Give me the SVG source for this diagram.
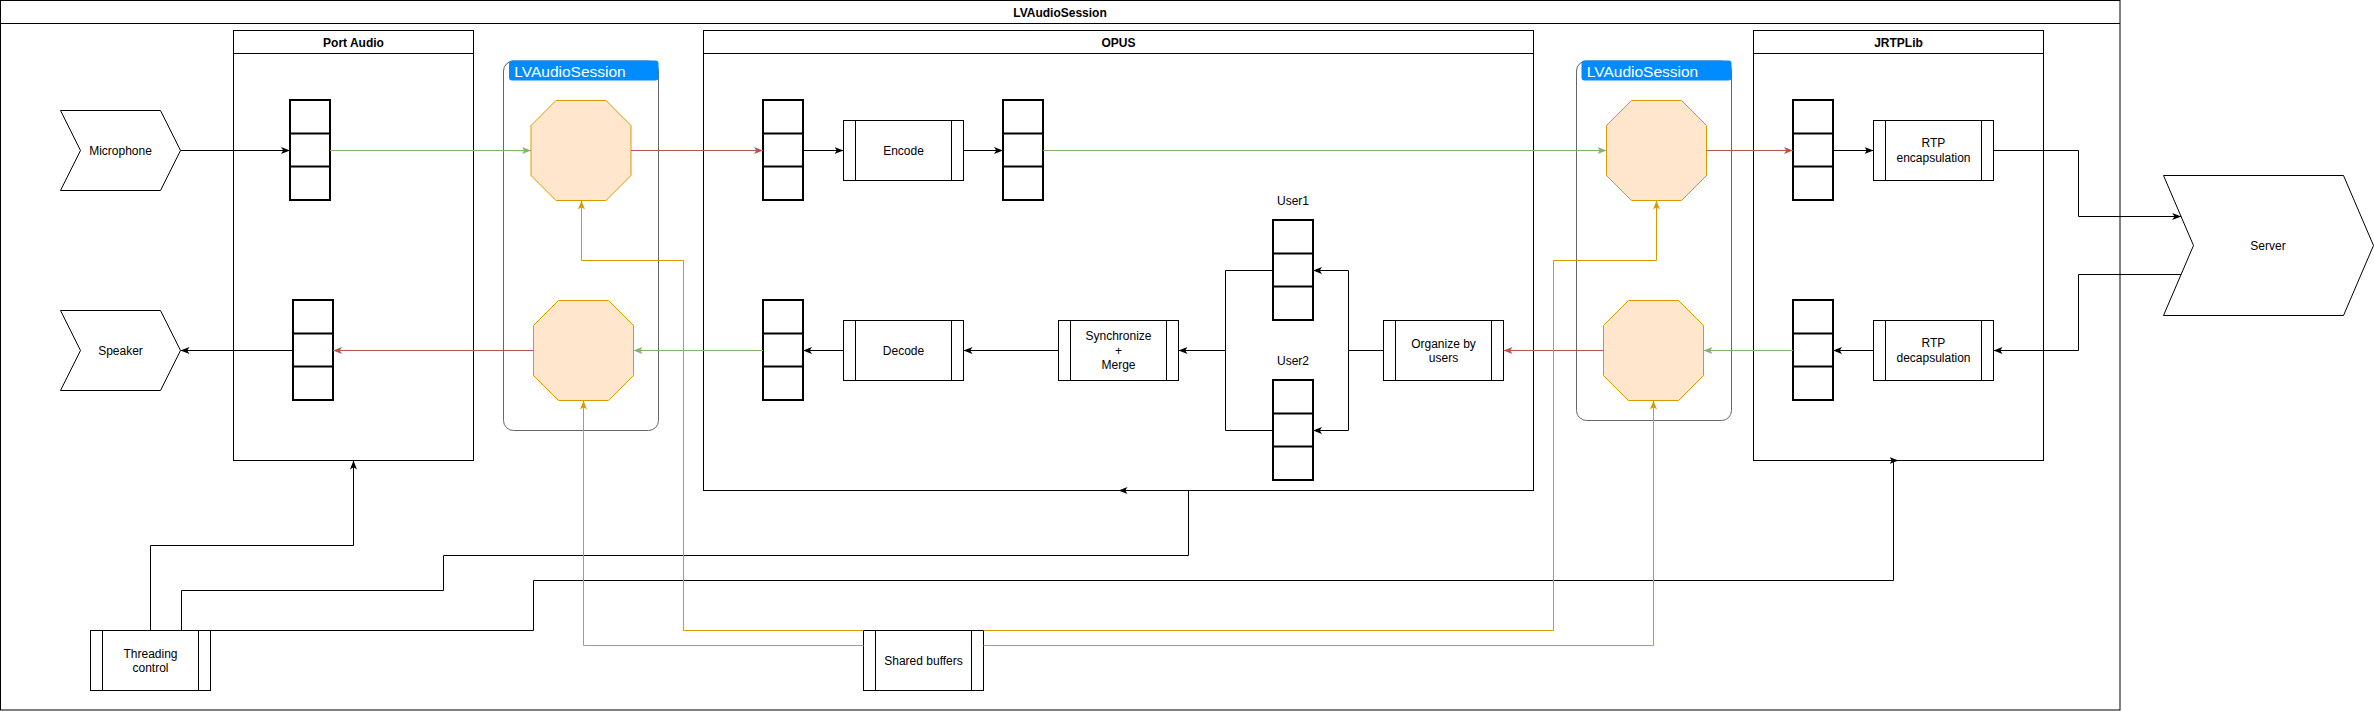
<svg xmlns="http://www.w3.org/2000/svg" width="2374" height="711" viewBox="0 0 2374 711">
<style>
text{font-family:"Liberation Sans",Arial,Helvetica,sans-serif;font-size:12px;fill:#000;text-anchor:middle}
.title{font-weight:bold}
.box{fill:#fff;stroke:#000;stroke-width:1}
.lane{fill:none;stroke:#000;stroke-width:1}
.q{fill:#fff;stroke:#000;stroke-width:2}
.qd{fill:none;stroke:#000;stroke-width:2}
.oct{fill:#ffe6cc;stroke:#d79b00;stroke-width:1}
.grp{fill:none;stroke:#666;stroke-width:1}
.tag{fill:#008cff}
.tagt{fill:#fff;font-size:15.5px;text-anchor:start}
.c{fill:none;stroke-width:1}
.k{stroke:#000}
.g{stroke:#82b366}
.r{stroke:#b85450}
.o{stroke:#d79b00}
</style>
<defs>
<marker id="ak" markerUnits="userSpaceOnUse" markerWidth="10" markerHeight="8" refX="9" refY="3.5" orient="auto"><path d="M9,3.5 L0,0 L2.25,3.5 L0,7 Z" fill="#000"/></marker>
<marker id="ag" markerUnits="userSpaceOnUse" markerWidth="10" markerHeight="8" refX="9" refY="3.5" orient="auto"><path d="M9,3.5 L0,0 L2.25,3.5 L0,7 Z" fill="#82b366"/></marker>
<marker id="ar" markerUnits="userSpaceOnUse" markerWidth="10" markerHeight="8" refX="9" refY="3.5" orient="auto"><path d="M9,3.5 L0,0 L2.25,3.5 L0,7 Z" fill="#b85450"/></marker>
<marker id="ao" markerUnits="userSpaceOnUse" markerWidth="10" markerHeight="8" refX="9" refY="3.5" orient="auto"><path d="M9,3.5 L0,0 L2.25,3.5 L0,7 Z" fill="#d79b00"/></marker>
</defs>
<rect width="2374" height="711" fill="#fff"/>

<g id="outer">
<rect class="lane" x="0.5" y="0.5" width="2119.5" height="709.5"/>
<line class="lane" x1="0.5" y1="23.5" x2="2120" y2="23.5"/>
<text class="title" x="1060" y="16.5">LVAudioSession</text>
</g>

<g id="portaudio">
<rect class="lane" x="233.5" y="30.5" width="240" height="430"/>
<line class="lane" x1="233.5" y1="53.5" x2="473.5" y2="53.5"/>
<text class="title" x="353.5" y="46.5">Port Audio</text>
</g>
<g id="opus">
<rect class="lane" x="703.5" y="30.5" width="830" height="460"/>
<line class="lane" x1="703.5" y1="53.5" x2="1533.5" y2="53.5"/>
<text class="title" x="1118.5" y="46.5">OPUS</text>
</g>
<g id="jrtplib">
<rect class="lane" x="1753.5" y="30.5" width="290" height="430"/>
<line class="lane" x1="1753.5" y1="53.5" x2="2043.5" y2="53.5"/>
<text class="title" x="1898.5" y="46.5">JRTPLib</text>
</g>

<g id="session-left">
<rect class="grp" x="503.5" y="61" width="155" height="369.5" rx="10"/>
<rect class="tag" x="509" y="60.5" width="149.5" height="20" rx="3"/>
<text class="tagt" x="514.3" y="76.8">LVAudioSession</text>
</g>
<g id="session-right">
<rect class="grp" x="1576.5" y="61" width="155" height="359.5" rx="10"/>
<rect class="tag" x="1581.5" y="60.5" width="150" height="20" rx="3"/>
<text class="tagt" x="1586.8" y="76.8">LVAudioSession</text>
</g>

<g id="microphone">
<polygon class="box" points="60.5,110.5 160.5,110.5 180.5,150.5 160.5,190.5 60.5,190.5 80.5,150.5"/>
<text x="120.5" y="154.7">Microphone</text>
</g>
<g id="speaker">
<polygon class="box" points="60.5,310.5 160.5,310.5 180.5,350.5 160.5,390.5 60.5,390.5 80.5,350.5"/>
<text x="120.5" y="354.7">Speaker</text>
</g>
<g id="server">
<polygon class="box" points="2163.5,175.5 2343.5,175.5 2373.5,245.5 2343.5,315.5 2163.5,315.5 2193.5,245.5"/>
<text x="2268" y="249.7">Server</text>
</g>

<g id="pa-queue-in">
<rect class="q" x="290" y="100" width="40" height="100"/>
<path class="qd" d="M290,133.5 H330 M290,166.5 H330"/>
</g>
<g id="pa-queue-out">
<rect class="q" x="293" y="300" width="40" height="100"/>
<path class="qd" d="M293,333.5 H333 M293,366.5 H333"/>
</g>
<g id="opus-queue-in">
<rect class="q" x="763" y="100" width="40" height="100"/>
<path class="qd" d="M763,133.5 H803 M763,166.5 H803"/>
</g>
<g id="opus-queue-enc">
<rect class="q" x="1003" y="100" width="40" height="100"/>
<path class="qd" d="M1003,133.5 H1043 M1003,166.5 H1043"/>
</g>
<g id="opus-queue-dec">
<rect class="q" x="763" y="300" width="40" height="100"/>
<path class="qd" d="M763,333.5 H803 M763,366.5 H803"/>
</g>
<g id="user1">
<text x="1293" y="204.9">User1</text>
<rect class="q" x="1273" y="220" width="40" height="100"/>
<path class="qd" d="M1273,253.5 H1313 M1273,286.5 H1313"/>
</g>
<g id="user2">
<text x="1293" y="364.9">User2</text>
<rect class="q" x="1273" y="380" width="40" height="100"/>
<path class="qd" d="M1273,413.5 H1313 M1273,446.5 H1313"/>
</g>
<g id="jrtp-queue-out">
<rect class="q" x="1793" y="100" width="40" height="100"/>
<path class="qd" d="M1793,133.5 H1833 M1793,166.5 H1833"/>
</g>
<g id="jrtp-queue-in">
<rect class="q" x="1793" y="300" width="40" height="100"/>
<path class="qd" d="M1793,333.5 H1833 M1793,366.5 H1833"/>
</g>

<g id="oct-tl"><polygon class="oct" points="556,100.5 606,100.5 631,125.5 631,175.5 606,200.5 556,200.5 531,175.5 531,125.5"/></g>
<g id="oct-bl"><polygon class="oct" points="558.5,300.5 608.5,300.5 633.5,325.5 633.5,375.5 608.5,400.5 558.5,400.5 533.5,375.5 533.5,325.5"/></g>
<g id="oct-tr"><polygon class="oct" points="1631.5,100.5 1681.5,100.5 1706.5,125.5 1706.5,175.5 1681.5,200.5 1631.5,200.5 1606.5,175.5 1606.5,125.5"/></g>
<g id="oct-br"><polygon class="oct" points="1628.5,300.5 1678.5,300.5 1703.5,325.5 1703.5,375.5 1678.5,400.5 1628.5,400.5 1603.5,375.5 1603.5,325.5"/></g>

<g id="encode">
<rect class="box" x="843.5" y="120.5" width="120" height="60"/>
<path class="lane" d="M855.5,120.5 V180.5 M951.5,120.5 V180.5"/>
<text x="903.5" y="154.7">Encode</text>
</g>
<g id="decode">
<rect class="box" x="843.5" y="320.5" width="120" height="60"/>
<path class="lane" d="M855.5,320.5 V380.5 M951.5,320.5 V380.5"/>
<text x="903.5" y="354.7">Decode</text>
</g>
<g id="sync">
<rect class="box" x="1058.5" y="320.5" width="120" height="60"/>
<path class="lane" d="M1070.5,320.5 V380.5 M1166.5,320.5 V380.5"/>
<text x="1118.5" y="340">Synchronize</text>
<text x="1118.5" y="354.5">+</text>
<text x="1118.5" y="368.9">Merge</text>
</g>
<g id="organize">
<rect class="box" x="1383.5" y="320.5" width="120" height="60"/>
<path class="lane" d="M1395.5,320.5 V380.5 M1491.5,320.5 V380.5"/>
<text x="1443.5" y="347.5">Organize by</text>
<text x="1443.5" y="361.9">users</text>
</g>
<g id="rtp-enc">
<rect class="box" x="1873.5" y="120.5" width="120" height="60"/>
<path class="lane" d="M1885.5,120.5 V180.5 M1981.5,120.5 V180.5"/>
<text x="1933.5" y="147.3">RTP</text>
<text x="1933.5" y="161.7">encapsulation</text>
</g>
<g id="rtp-dec">
<rect class="box" x="1873.5" y="320.5" width="120" height="60"/>
<path class="lane" d="M1885.5,320.5 V380.5 M1981.5,320.5 V380.5"/>
<text x="1933.5" y="347.3">RTP</text>
<text x="1933.5" y="361.7">decapsulation</text>
</g>
<g id="threading">
<rect class="box" x="90.5" y="630.5" width="120" height="60"/>
<path class="lane" d="M102.5,630.5 V690.5 M198.5,630.5 V690.5"/>
<text x="150.5" y="657.5">Threading</text>
<text x="150.5" y="671.9">control</text>
</g>
<g id="shared">
<rect class="box" x="863.5" y="630.5" width="120" height="60"/>
<path class="lane" d="M875.5,630.5 V690.5 M971.5,630.5 V690.5"/>
<text x="923.5" y="664.7">Shared buffers</text>
</g>

<g id="connectors">
<path class="c k" marker-end="url(#ak)" d="M180.5,150.5 H290"/>
<path class="c g" marker-end="url(#ag)" d="M330,150.5 H531"/>
<path class="c r" marker-end="url(#ar)" d="M631,150.5 H763"/>
<path class="c k" marker-end="url(#ak)" d="M803,150.5 H843.5"/>
<path class="c k" marker-end="url(#ak)" d="M963.5,150.5 H1003"/>
<path class="c g" marker-end="url(#ag)" d="M1043,150.5 H1606.5"/>
<path class="c r" marker-end="url(#ar)" d="M1706.5,150.5 H1793"/>
<path class="c k" marker-end="url(#ak)" d="M1833,150.5 H1873.5"/>
<path class="c k" marker-end="url(#ak)" d="M1993.5,150.5 H2078.5 V216.5 H2181.2"/>
<path class="c k" marker-end="url(#ak)" d="M2181.2,274.5 H2078.5 V350.5 H1993.5"/>
<path class="c k" marker-end="url(#ak)" d="M1873.5,350.5 H1833"/>
<path class="c g" marker-end="url(#ag)" d="M1793,350.5 H1703.5"/>
<path class="c r" marker-end="url(#ar)" d="M1603.5,350.5 H1503.5"/>
<path class="c k" marker-end="url(#ak)" d="M1383.5,350.5 H1348.5 V270.5 H1313"/>
<path class="c k" marker-end="url(#ak)" d="M1348.5,350.5 V430.5 H1313"/>
<path class="c k" marker-end="url(#ak)" d="M1273,270.5 H1225.5 V350.5 H1178.5"/>
<path class="c k" d="M1273,430.5 H1225.5 V350.5"/>
<path class="c k" marker-end="url(#ak)" d="M1058.5,350.5 H963.5"/>
<path class="c k" marker-end="url(#ak)" d="M843.5,350.5 H803"/>
<path class="c g" marker-end="url(#ag)" d="M763,350.5 H633.5"/>
<path class="c r" marker-end="url(#ar)" d="M533.5,350.5 H333"/>
<path class="c k" marker-end="url(#ak)" d="M293,350.5 H180.5"/>
<path class="c k" marker-end="url(#ak)" d="M150.5,630.5 V545.5 H353.5 V460.5"/>
<path class="c k" marker-end="url(#ak)" d="M181.5,630.5 V590.5 H443.5 V555.5 H1188.5 V490.5 H1118.5"/>
<path class="c k" marker-end="url(#ak)" d="M210.5,630.5 H533.5 V580.5 H1893.5 V460.5 H1898.5"/>
<path class="c o" marker-end="url(#ao)" d="M863.5,630.5 H683.5 V260.5 H581.5 V200.5"/>
<path class="c o" marker-end="url(#ao)" d="M863.5,645.5 H583.5 V400.5"/>
<path class="c o" marker-end="url(#ao)" d="M983.5,630.5 H1553.5 V260.5 H1656.5 V200.5"/>
<path class="c o" marker-end="url(#ao)" d="M983.5,645.5 H1653.5 V400.5"/>
</g>
</svg>
